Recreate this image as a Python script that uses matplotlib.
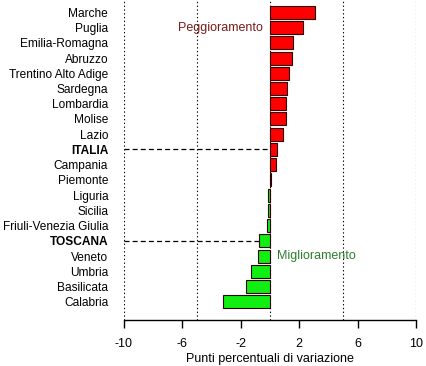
"""Variazione regionale in punti percentuali (barre orizzontali)."""
import matplotlib
matplotlib.use("Agg")
import matplotlib.pyplot as plt

plt.rcParams.update({
    "font.family": ["Liberation Sans", "DejaVu Sans"],
    "font.size": 9,
    "axes.unicode_minus": False,
})

regions = ["Marche", "Puglia", "Emilia-Romagna", "Abruzzo", "Trentino Alto Adige",
           "Sardegna", "Lombardia", "Molise", "Lazio", "ITALIA", "Campania",
           "Piemonte", "Liguria", "Sicilia", "Friuli-Venezia Giulia", "TOSCANA",
           "Veneto", "Umbria", "Basilicata", "Calabria"]
values = [3.1, 2.3, 1.6, 1.5, 1.3, 1.2, 1.1, 1.1, 0.9, 0.5, 0.4,
          0.1, -0.15, -0.15, -0.2, -0.75, -0.8, -1.3, -1.6, -3.2]
highlight = ["ITALIA", "TOSCANA"]
xticks = [-10, -6, -2, 2, 6, 10]
grid_x = [-10, -5, 0, 5, 10]

fig = plt.figure(figsize=(4.26, 3.66), dpi=100)
ax = fig.add_axes([123.5 / 426, 1 - 320 / 366, 292.5 / 426, 320 / 366])

n = len(regions)
ypos = [n - 1 - i for i in range(n)]
colors = ["#FF0000" if v > 0 else "#11EE11" for v in values]

for gx in grid_x:
    ax.axvline(gx, color="black", linestyle=(0, (1.2, 2.2)), linewidth=0.8, zorder=1)

for name, y, v in zip(regions, ypos, values):
    if name in highlight:
        ax.plot([-10, v], [y, y], color="black", linestyle=(0, (4, 2.5)),
                linewidth=0.9, zorder=2)

ax.barh(ypos, values, height=0.85, color=colors, edgecolor="#300000",
        linewidth=0.8, zorder=3)

ax.set_xlim(-10, 10)
ax.set_ylim(-1.2, n - 1 + 0.81)
ax.set_yticks(ypos)
ax.set_yticklabels(regions, fontsize=8.6)
for lbl in ax.get_yticklabels():
    if lbl.get_text() in highlight:
        lbl.set_fontweight("bold")
ax.tick_params(axis="y", length=0, pad=11)
ax.set_xticks(xticks)
ax.tick_params(axis="x", length=6, width=1, pad=7)
ax.set_xlabel("Punti percentuali di variazione", labelpad=2)

for side in ["top", "right", "left"]:
    ax.spines[side].set_visible(False)
ax.spines["bottom"].set_linewidth(1.0)

ax.text(-0.5, ypos[1], "Peggioramento", color="#7A1A1A", ha="right", va="center")
ax.text(0.5, ypos[regions.index("Veneto")], "Miglioramento", color="#2E7D2E",
        ha="left", va="center")

fig.savefig("out.png", dpi=100)
